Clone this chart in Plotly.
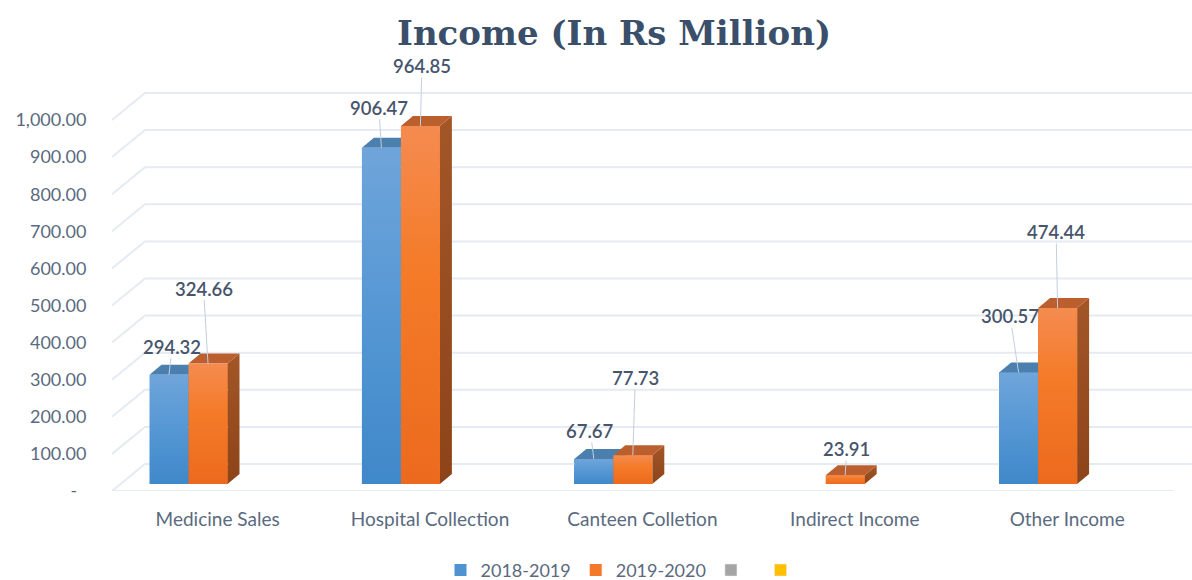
import plotly.graph_objects as go

categories = ["Medicine Sales", "Hospital Collection", "Canteen Colletion", "Indirect Income", "Other Income"]
series_2018 = [294.32, 906.47, 67.67, None, 300.57]
series_2019 = [324.66, 964.85, 77.73, 23.91, 474.44]
name_2018 = "2018-2019"
name_2019 = "2019-2020"
y_ticks = [0, 100, 200, 300, 400, 500, 600, 700, 800, 900, 1000]
y_labels = ["-\u00a0\u00a0", "100.00", "200.00", "300.00", "400.00", "500.00", "600.00", "700.00", "800.00", "900.00", "1,000.00"]
# label offsets from the bar top, in screen pixels
offsets_2018 = [(3, -28), (-2.5, -40), (-3.5, -28), None, (-8.5, -56)]
offsets_2019 = [(-4.5, -75), (1.5, -60), (2.5, -77), (1.5, -26), (-1.5, -76)]

W, H = 1192, 580
ML, MR, MT, MB = 112, 0, 80, 89
PX_X = 212.4          # px per category
PX_Y = 0.371          # px per value unit
SEAM0 = 188.5         # px of the first category's seam
BAR_W = 39.0 / PX_X
ZERO_PX = 484.0       # px of bar plane's zero
px2x = lambda p: (p - SEAM0) / PX_X
px2y = lambda p: (ZERO_PX - p) / PX_Y
dx_b, dy_b = 12 / PX_X, 10 / PX_Y          # bar depth
front_shift = -7 / PX_Y                    # front floor plane vs. bar plane
wall_dx, wall_dy = 33 / PX_X, 27 / PX_Y    # wall depth
x_left, x_right = px2x(ML), px2x(W - MR)
floor_right = px2x(1173)

GRID = "#e5ebf2"
TXT = "#5a6a80"
LBL = "#46556c"
C = {
    "a": dict(top=[[0, "#3f88c9"], [0.5, "#5597d4"], [1, "#6fa5da"]], face="#4a7fae",
              side=[[0, "#2f5f8c"], [1, "#3f6f9c"]], bar="#4f93d1"),
    "b": dict(top=[[0, "#ec6a1e"], [0.6, "#f47b28"], [1, "#f58b50"]], face="#bb5f2f",
              side=[[0, "#8c4418"], [1, "#a35628"]], bar="#f37a2a"),
}

fig = go.Figure()

# wall and floor grid
for v in y_ticks:
    yf = v + front_shift
    if v == 0:
        fig.add_trace(go.Scatter(x=[x_left, floor_right], y=[yf, yf], mode="lines",
                                 line=dict(color=GRID, width=2), showlegend=False, hoverinfo="skip"))
    fig.add_trace(go.Scatter(x=[x_left, x_left + wall_dx, x_right], y=[yf, yf + wall_dy, yf + wall_dy],
                             mode="lines", line=dict(color=GRID, width=2), showlegend=False, hoverinfo="skip"))

# flat bars that carry the values and the legend
def bars(values, sign, name, col):
    xs = [i + sign * BAR_W / 2 for i in range(len(categories))]
    fig.add_trace(go.Bar(x=xs, y=values, width=BAR_W, name=name, marker=dict(color=col, line=dict(width=0))))

bars(series_2018, -1, name_2018, C["a"]["bar"])
bars(series_2019, 1, name_2019, C["b"]["bar"])
fig.add_trace(go.Bar(x=[None], y=[None], name="\u00a0", marker=dict(color="#a5a5a5")))
fig.add_trace(go.Bar(x=[None], y=[None], name="\u00a0\u00a0", marker=dict(color="#ffc000")))

# 3D faces derived from the values
def poly(xs, ys, color=None, grad=None):
    kw = dict(fillcolor=color) if color else dict(
        fillgradient=dict(type="vertical", colorscale=grad))
    fig.add_trace(go.Scatter(x=xs, y=ys, mode="lines", fill="toself", line=dict(width=0),
                             showlegend=False, hoverinfo="skip", **kw))

def faces(values, sign, pal):
    for i, v in enumerate(values):
        if v is None:
            continue
        x0 = i + (-BAR_W if sign < 0 else 0)
        x1 = x0 + BAR_W
        poly([x1, x1 + dx_b, x1 + dx_b, x1, x1], [0, dy_b, v + dy_b, v, 0], grad=pal["side"])
        poly([x0, x0 + dx_b, x1 + dx_b, x1, x0], [v, v + dy_b, v + dy_b, v, v], color=pal["face"])
        poly([x0, x1, x1, x0, x0], [0, 0, v, v, 0], grad=pal["top"])

faces(series_2018, -1, C["a"])
faces(series_2019, 1, C["b"])

# value labels with leader lines
def labels(values, sign, offs):
    for i, (v, o) in enumerate(zip(values, offs)):
        if v is None or o is None:
            continue
        fig.add_annotation(x=i + sign * BAR_W / 2, y=v, text=f"{v:.2f}", ax=o[0], ay=o[1],
                           axref="pixel", ayref="pixel", showarrow=True, arrowhead=0, arrowwidth=1,
                           arrowcolor="#c3cede", font=dict(family="Lato", size=18.5, color=LBL, weight=600),
                           borderpad=0)

labels(series_2018, -1, offsets_2018)
labels(series_2019, 1, offsets_2019)

fig.update_layout(
    width=W, height=H, autosize=False,
    margin=dict(l=ML, r=MR, t=MT, b=MB, autoexpand=False),
    paper_bgcolor="white", plot_bgcolor="white",
    barmode="overlay", bargap=0,
    title=dict(text="Income (In Rs Million)", x=614 / W, y=1 - 33 / H, xanchor="center", yanchor="middle",
               xref="container", yref="container",
               font=dict(family="DejaVu Serif", size=34, color="#3a4f69", weight="bold")),
    legend=dict(orientation="h", x=(628 - ML) / (W - ML - MR), xref="paper", xanchor="center", y=-0.193, yanchor="middle",
                font=dict(family="Lato", size=18, color=TXT), bgcolor="rgba(0,0,0,0)"),
    showlegend=True,
    xaxis=dict(range=[x_left, x_right], showgrid=False, zeroline=False, showline=False, tickangle=0,
               tickmode="array", tickvals=[i + 0.137 for i in range(len(categories))], ticktext=categories,
               ticks="outside", ticklen=11, tickcolor="rgba(0,0,0,0)",
               tickfont=dict(family="Lato", size=19, color=TXT)),
    yaxis=dict(range=[px2y(ZERO_PX + 7), px2y(MT)], showgrid=False, zeroline=False, showline=False,
               tickmode="array", tickvals=[v + front_shift for v in y_ticks], ticktext=y_labels,
               ticks="outside", ticklen=21, tickcolor="rgba(0,0,0,0)",
               tickfont=dict(family="Lato", size=18, color=TXT)),
)

fig.write_html("out.html", config=dict(displayModeBar=False), post_script="document.body.style.margin='0';")
